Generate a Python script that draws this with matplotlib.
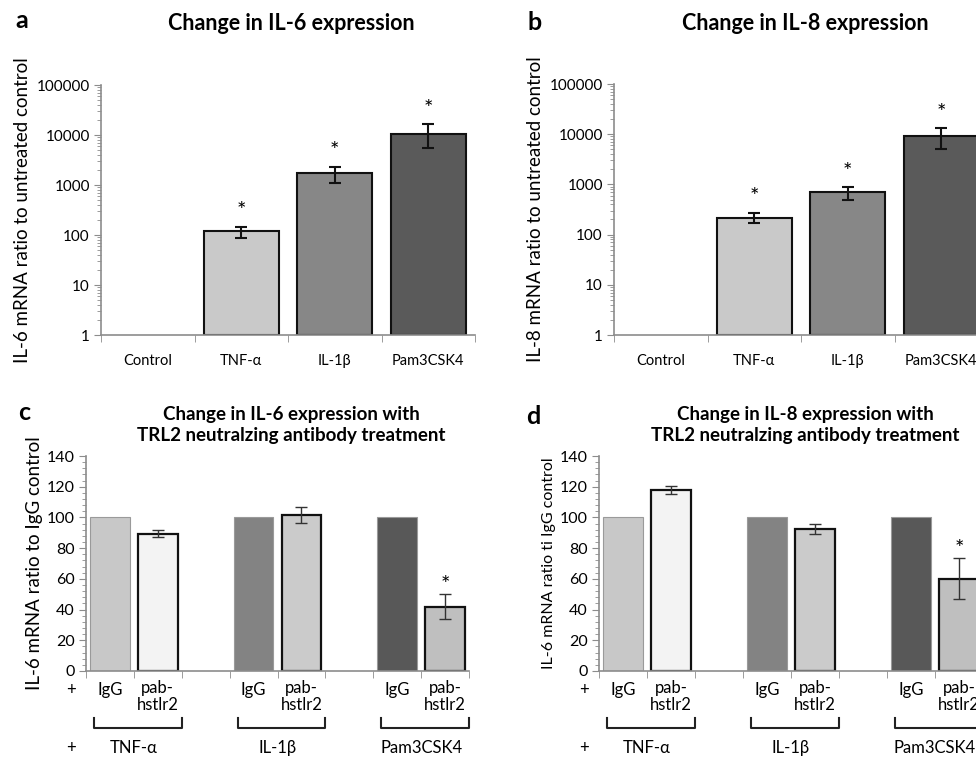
import numpy as np
import matplotlib
matplotlib.use("Agg")
import matplotlib.pyplot as plt
from matplotlib.ticker import LogLocator, MultipleLocator, FixedLocator, NullFormatter
import matplotlib.transforms as mtransforms

plt.rcParams['font.family'] = ['Lato', 'DejaVu Sans']

# ---- data ----
top_cats = ['Control', 'TNF-α', 'IL-1β', 'Pam3CSK4']
il6_ratio = [1, 120, 1700, 10600]
il6_lo = [np.nan, 87, 1100, 5500]
il6_hi = [np.nan, 147, 2330, 16400]
il8_ratio = [1, 215, 690, 9200]
il8_lo = [np.nan, 170, 500, 5100]
il8_hi = [np.nan, 270, 870, 13200]
top_star = [False, True, True, True]
top_colors = ['white', '#c9c9c9', '#878787', '#5a5a5a']

stimuli = ['TNF-α', 'IL-1β', 'Pam3CSK4']
treat = ['IgG', 'pab-\nhstlr2']
il6_igg = [100, 100, 100]
il6_pab = [89.4, 101.5, 41.7]
il6_pab_lo = [87.5, 96.2, 33.9]
il6_pab_hi = [91.8, 106.6, 50.1]
il6_pab_star = [False, False, True]
il8_igg = [100, 100, 100]
il8_pab = [117.9, 92.4, 60.2]
il8_pab_lo = [115.1, 89.2, 47.2]
il8_pab_hi = [120.5, 95.6, 73.8]
il8_pab_star = [False, False, True]
igg_colors = ['#c8c8c8', '#838383', '#585858']
pab_colors = ['#f3f3f3', '#cbcbcb', '#bfbfbf']

W, H = 976, 759
fig = plt.figure(figsize=(W / 100, H / 100), dpi=100)


def px_axes(x0, y0, x1, y1):
    # pixel box (top-left origin) -> figure axes
    return fig.add_axes([x0 / W, 1 - y1 / H, (x1 - x0) / W, (y1 - y0) / H])


def style_axes(ax, labelsize):
    for s in ['top', 'right']:
        ax.spines[s].set_visible(False)
    for s in ['left', 'bottom']:
        ax.spines[s].set_color('#8c8c8c')
        ax.spines[s].set_linewidth(1.2)
    ax.tick_params(axis='y', which='major', direction='out', length=5, color='#8c8c8c',
                   labelsize=labelsize, pad=3)
    ax.tick_params(axis='y', which='minor', direction='out', length=3, color='#8c8c8c')
    ax.tick_params(axis='x', which='major', length=0)
    ax.tick_params(axis='x', which='minor', direction='out', length=5, color='#8c8c8c')


def top_panel(box, vals, lo, hi, ylabel, title, letter, letter_xy, title_x):
    ax = px_axes(*box)
    x = np.arange(len(top_cats))
    vals = np.array(vals, float)
    ax.set_yscale('log')
    ax.bar(x, vals - 1, bottom=1, width=0.8, color=top_colors,
           edgecolor=['none'] + ['#111111'] * 3, linewidth=1.5, zorder=2)
    lo = np.array(lo); hi = np.array(hi)
    ax.errorbar(x, vals, yerr=[vals - lo, hi - vals], fmt='none', ecolor='#111111',
                elinewidth=1.5, capsize=4, capthick=1.5, zorder=3)
    for xi, h, s in zip(x, hi, top_star):
        if s:
            ax.annotate('*', (xi, h), xytext=(0, 4), textcoords='offset points',
                        ha='center', va='bottom', fontsize=16)
    ax.set_ylim(1, 100000)
    ax.set_xlim(-0.5, len(top_cats) - 0.5)
    ax.yaxis.set_minor_locator(LogLocator(base=10, subs=np.arange(2, 10), numticks=20))
    ax.yaxis.set_minor_formatter(NullFormatter())
    ax.set_yticks([1, 10, 100, 1000, 10000, 100000])
    ax.set_yticklabels(['1', '10', '100', '1000', '10000', '100000'])
    ax.set_xticks(x)
    ax.set_xticklabels(top_cats, fontsize=10.5)
    ax.xaxis.set_minor_locator(FixedLocator(np.arange(-0.5, len(top_cats), 1.0)))
    style_axes(ax, 11)
    ax.tick_params(axis='x', which='major', pad=14)
    ax.set_ylabel(ylabel, fontsize=13.5, labelpad=4)
    fig.text(title_x / W, 1 - 24 / H, title, ha='center', va='center', fontsize=15.5,
             fontweight='bold')
    fig.text(letter_xy[0] / W, 1 - letter_xy[1] / H, letter, ha='center', va='center',
             fontsize=18, fontweight='bold')
    return ax


def bottom_panel(box, igg, pab, lo, hi, stars, ylabel, ylab_size, title, letter, letter_xy,
                 title_x):
    ax = px_axes(*box)
    n = len(stimuli)
    x_igg = np.arange(n) * 3
    x_pab = x_igg + 1
    ax.bar(x_igg, igg, width=0.83, color=igg_colors, edgecolor='#9a9a9a', linewidth=0.8,
           zorder=2)
    ax.bar(x_pab, pab, width=0.83, color=pab_colors, edgecolor='#111111', linewidth=1.6,
           zorder=2)
    pab = np.array(pab); lo = np.array(lo); hi = np.array(hi)
    ax.errorbar(x_pab, pab, yerr=[pab - lo, hi - pab], fmt='none', ecolor='#333333',
                elinewidth=1.0, capsize=4, capthick=1.0, zorder=3)
    for xi, h, s in zip(x_pab, hi, stars):
        if s:
            ax.annotate('*', (xi, h), xytext=(0, -1), textcoords='offset points',
                        ha='center', va='bottom', fontsize=16)
    ax.set_xlim(-0.5, 3 * n - 1 - 0.5)
    ax.set_ylim(0, 140)
    ax.yaxis.set_major_locator(MultipleLocator(20))
    ax.yaxis.set_minor_locator(MultipleLocator(4))
    ax.set_xticks([])
    ax.xaxis.set_minor_locator(FixedLocator(np.arange(-0.5, 3 * n - 1, 1.0)))
    style_axes(ax, 11.5)
    ax.set_ylabel(ylabel, fontsize=ylab_size, labelpad=3)

    trans = mtransforms.blended_transform_factory(ax.transData, fig.transFigure)
    y_row1 = 1 - 690 / H
    y_br_top = 1 - 718 / H
    y_br_bot = 1 - 728 / H
    y_row2 = 1 - 748 / H
    x_plus = ax.get_xlim()[0] - 0.32
    for yy in (y_row1, y_row2):
        ax.text(x_plus, yy, '+', transform=trans, ha='center', va='center', fontsize=12,
                clip_on=False)
    for i, stim in enumerate(stimuli):
        ax.text(x_igg[i], y_row1, treat[0], transform=trans, ha='center', va='center',
                fontsize=12, clip_on=False)
        ax.text(x_pab[i], y_row1 + 10 / H, treat[1], transform=trans, ha='center', va='top',
                fontsize=12, linespacing=1.1, clip_on=False)
        xa, xb = x_igg[i] - 0.33, x_pab[i] + 0.5
        ax.plot([xa, xa, xb, xb], [y_br_top, y_br_bot, y_br_bot, y_br_top], transform=trans,
                color='#222222', lw=1.5, clip_on=False)
        ax.text((x_igg[i] + x_pab[i]) / 2, y_row2, stim, transform=trans, ha='center',
                va='center', fontsize=12, clip_on=False)
    fig.text(title_x / W, 1 - 425 / H, title, ha='center', va='center', fontsize=13.5,
             fontweight='bold', linespacing=1.25)
    fig.text(letter_xy[0] / W, 1 - letter_xy[1] / H, letter, ha='center', va='center',
             fontsize=18, fontweight='bold')
    return ax


top_panel((101, 85, 475, 335), il6_ratio, il6_lo, il6_hi,
          'IL-6 mRNA ratio to untreated control', 'Change in IL-6 expression', 'a', (22, 20),
          291)
top_panel((614, 84, 988, 335), il8_ratio, il8_lo, il8_hi,
          'IL-8 mRNA ratio to untreated control', 'Change in IL-8 expression', 'b', (535, 22),
          805)

bottom_panel((86, 456, 469, 671), il6_igg, il6_pab, il6_pab_lo, il6_pab_hi, il6_pab_star,
             'IL-6 mRNA ratio to IgG control', 13.5,
             'Change in IL-6 expression with\nTRL2 neutralzing antibody treatment', 'c',
             (24, 413), 291)
bottom_panel((599, 456, 983, 671), il8_igg, il8_pab, il8_pab_lo, il8_pab_hi, il8_pab_star,
             'IL-6 mRNA ratio ti IgG control', 11.5,
             'Change in IL-8 expression with\nTRL2 neutralzing antibody treatment', 'd',
             (533, 416), 805)

fig.savefig('out.png', dpi=100)
